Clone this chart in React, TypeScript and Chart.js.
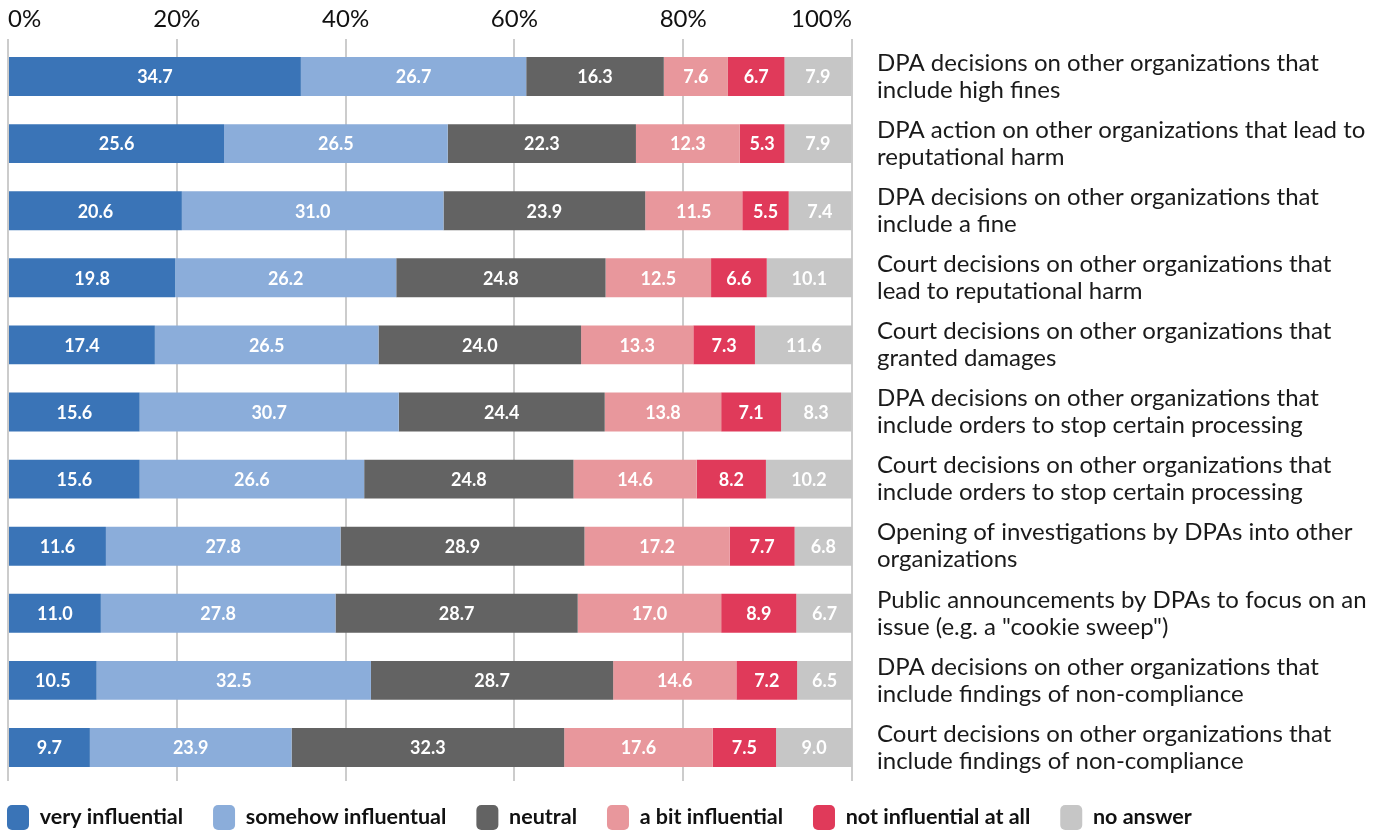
import React, { useEffect, useRef } from "react";
import { Chart, registerables } from "chart.js";

Chart.register(...registerables);

const categories: string[][] = [
  ["DPA decisions on other organizations that", "include high fines"],
  ["DPA action on other organizations that lead to", "reputational harm"],
  ["DPA decisions on other organizations that", "include a fine"],
  ["Court decisions on other organizations that", "lead to reputational harm"],
  ["Court decisions on other organizations that", "granted damages"],
  ["DPA decisions on other organizations that", "include orders to stop certain processing"],
  ["Court decisions on other organizations that", "include orders to stop certain processing"],
  ["Opening of investigations by DPAs into other", "organizations"],
  ["Public announcements by DPAs to focus on an", "issue (e.g. a \"cookie sweep\")"],
  ["DPA decisions on other organizations that", "include findings of non-compliance"],
  ["Court decisions on other organizations that", "include findings of non-compliance"],
];

const seriesNames = [
  "very influential",
  "somehow influentual",
  "neutral",
  "a bit influential",
  "not influential at all",
  "no answer",
];

const veryInfluential = [34.7, 25.6, 20.6, 19.8, 17.4, 15.6, 15.6, 11.6, 11.0, 10.5, 9.7];
const somehowInfluential = [26.7, 26.5, 31.0, 26.2, 26.5, 30.7, 26.6, 27.8, 27.8, 32.5, 23.9];
const neutral = [16.3, 22.3, 23.9, 24.8, 24.0, 24.4, 24.8, 28.9, 28.7, 28.7, 32.3];
const aBitInfluential = [7.6, 12.3, 11.5, 12.5, 13.3, 13.8, 14.6, 17.2, 17.0, 14.6, 17.6];
const notInfluential = [6.7, 5.3, 5.5, 6.6, 7.3, 7.1, 8.2, 7.7, 8.9, 7.2, 7.5];
const noAnswer = [7.9, 7.9, 7.4, 10.1, 11.6, 8.3, 10.2, 6.8, 6.7, 6.5, 9.0];

const tickValues = [0, 20, 40, 60, 80, 100];

const colors = ["#3a74b7", "#8badda", "#636363", "#e8979c", "#e03a5a", "#c6c6c6"];

const LEGEND_PAD = 30;

const valueLabels = {
  id: "valueLabels",
  afterLayout(chart: any) {
    if (chart.legend) {
      chart.legend.left = 7 - LEGEND_PAD;
      chart.legend.top = 805 - LEGEND_PAD;
    }
  },
  afterDatasetsDraw(chart: any) {
    const ctx = chart.ctx;
    ctx.save();
    ctx.font = "bold 18px Lato";
    ctx.fillStyle = "#ffffff";
    ctx.textAlign = "center";
    ctx.textBaseline = "middle";
    chart.data.datasets.forEach((ds: any, i: number) => {
      const meta = chart.getDatasetMeta(i);
      meta.data.forEach((bar: any, j: number) => {
        const p = bar.getProps(["x", "y", "base"], true);
        ctx.fillText(Number(ds.data[j]).toFixed(1), (p.x + p.base) / 2, p.y + 1);
      });
    });
    ctx.restore();
  },
};

export default function App() {
  const ref = useRef<HTMLCanvasElement | null>(null);

  useEffect(() => {
    document.body.style.margin = "0";
    const values = [veryInfluential, somehowInfluential, neutral, aBitInfluential, notInfluential, noAnswer];
    const chart = new Chart(ref.current as HTMLCanvasElement, {
      type: "bar",
      data: {
        labels: categories,
        datasets: values.map((d, i) => ({
          label: seriesNames[i],
          data: d,
          backgroundColor: colors[i],
          borderWidth: 0,
          categoryPercentage: 1,
          barPercentage: 0.58,
        })),
      },
      options: {
        indexAxis: "y",
        animation: false,
        responsive: false,
        maintainAspectRatio: false,
        layout: { padding: { left: 8, right: 0, top: 0, bottom: -14 } },
        plugins: {
          tooltip: { enabled: false },
          legend: {
            position: "bottom",
            align: "start",
            labels: {
              boxWidth: 22,
              boxHeight: 25,
              useBorderRadius: true,
              borderRadius: 5,
              padding: LEGEND_PAD,
              color: "#111",
              font: { family: "Lato", size: 21.5, weight: "bold" },
            },
          },
        },
        scales: {
          x: {
            type: "linear",
            position: "top",
            stacked: true,
            min: 0,
            max: 100,
            afterBuildTicks: (s: any) => {
              s.ticks = tickValues.map((v) => ({ value: v }));
            },
            afterFit: (s: any) => {
              s.height = 43;
              s.paddingLeft = 0;
              s.paddingRight = 0;
            },
            ticks: {
              align: "inner",
              padding: 5,
              color: "#111",
              font: { family: "Lato", size: 24 },
              callback: (v: any) => v + "%",
            },
            grid: { color: "#cccccc", lineWidth: 2, tickLength: 4 },
            border: { display: false },
          },
          y: {
            type: "category",
            position: "right",
            stacked: true,
            afterFit: (s: any) => {
              s.width = 534;
              s.paddingTop = 0;
              s.paddingBottom = 0;
            },
            ticks: {
              padding: 25,
              color: "#1a1a1a",
              font: { family: "Lato", size: 24, lineHeight: 1.125 },
            },
            grid: { display: false, drawTicks: false },
            border: { display: false },
          },
        },
      },
      plugins: [valueLabels],
    } as any);
    return () => chart.destroy();
  }, []);

  return (
    <div style={{ width: 1386, height: 832 }}>
      <canvas ref={ref} width={1386} height={832} style={{ display: "block" }} />
    </div>
  );
}
